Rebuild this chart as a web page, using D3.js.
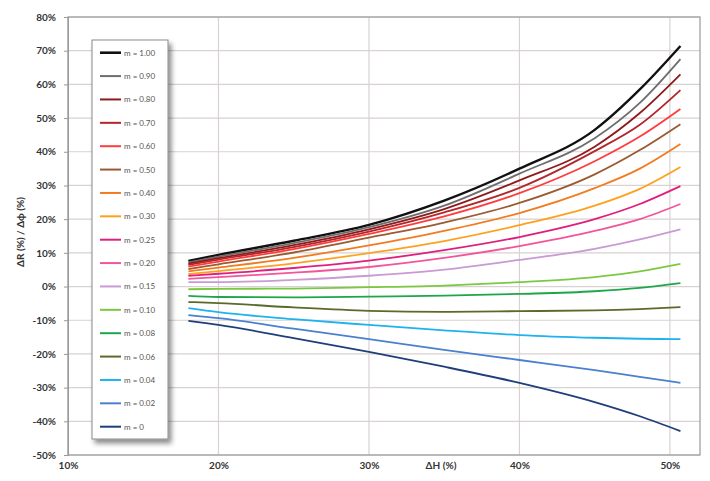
<!DOCTYPE html>
<html>
<head>
<meta charset="utf-8">
<script src="https://cdn.jsdelivr.net/npm/d3@7"></script>
<style>
  body { margin: 0; background: #fff; }
  svg { display: block; }
  .tick text { font-family: Lato, "Liberation Sans", sans-serif; font-weight: bold; font-size: 10px; fill: #333; }
</style>
</head>
<body>
<script>
// ΔH (%) sample positions
var dH = [18, 20, 25, 30, 35, 40, 45, 48, 50.7];

var mLabels = ['m = 1.00', 'm = 0.90', 'm = 0.80', 'm = 0.70', 'm = 0.60', 'm = 0.50', 'm = 0.40', 'm = 0.30',
  'm = 0.25', 'm = 0.20', 'm = 0.15', 'm = 0.10', 'm = 0.08', 'm = 0.06', 'm = 0.04', 'm = 0.02', 'm = 0'];

var colors = ['#111111', '#6e6e6e', '#8e1b1b', '#b3262a', '#ff3c3c', '#9b5a30', '#f27b1f', '#ffa11f',
  '#df1f7f', '#f2559c', '#c99ad4', '#7cc843', '#1ea64a', '#5a6a28', '#1fb2ee', '#4b80cf', '#1f3e7b'];

// ΔR / Δϕ (%) per series at each dH
var m100 = [7.6, 9.4, 13.6, 18.3, 25.5, 35.0, 46.5, 58.5, 71.4];
var m090 = [7.2, 8.9, 12.9, 17.6, 24.0, 33.5, 44.0, 54.5, 67.5];
var m080 = [6.8, 8.4, 12.3, 17.0, 23.0, 31.5, 41.5, 51.5, 63.0];
var m070 = [6.4, 8.0, 11.7, 16.3, 22.0, 29.3, 40.2, 48.0, 58.3];
var m060 = [5.9, 7.4, 11.1, 15.6, 20.8, 27.7, 37.2, 44.5, 52.7];
var m050 = [5.2, 6.6, 10.1, 14.5, 19.0, 24.8, 33.3, 40.5, 48.2];
var m040 = [4.5, 5.6, 8.5, 12.2, 16.5, 21.8, 29.2, 35.0, 42.3];
var m030 = [3.7, 4.6, 6.9, 9.9, 13.5, 18.2, 24.0, 29.0, 35.5];
var m025 = [3.2, 3.8, 5.5, 7.7, 10.8, 14.7, 20.0, 24.5, 29.8];
var m020 = [2.3, 2.8, 4.1, 5.8, 8.5, 12.0, 16.5, 20.0, 24.5];
var m015 = [1.3, 1.3, 2.0, 3.2, 5.0, 7.9, 11.2, 14.0, 17.0];
var m010 = [-0.8, -0.7, -0.6, -0.2, 0.3, 1.3, 2.8, 4.5, 6.7];
var m008 = [-2.8, -3.1, -3.2, -3.0, -2.7, -2.2, -1.4, -0.4, 1.0];
var m006 = [-4.6, -4.9, -6.2, -7.2, -7.5, -7.3, -7.1, -6.7, -6.1];
var m004 = [-6.4, -7.6, -9.7, -11.4, -13.0, -14.4, -15.2, -15.5, -15.6];
var m002 = [-8.5, -9.4, -12.5, -15.6, -18.8, -21.8, -24.8, -26.8, -28.6];
var m000 = [-10.2, -11.4, -15.3, -19.4, -23.8, -28.6, -34.3, -38.5, -42.9];

var series = [m100, m090, m080, m070, m060, m050, m040, m030, m025, m020, m015, m010, m008, m006, m004, m002, m000];

var xTicks = [10, 20, 30, 40, 50];
var yTicks = [80, 70, 60, 50, 40, 30, 20, 10, 0, -10, -20, -30, -40, -50];

var width = 710, height = 481;
var plotL = 68, plotR = 700, plotT = 17, plotB = 455;

var svg = d3.select('body').append('svg').attr('width', width).attr('height', height);

var x = d3.scaleLinear().domain([10, 52]).range([plotL, plotR]);
var y = d3.scaleLinear().domain([-50, 80]).range([plotB, plotT]);

// grid
svg.append('g').selectAll('line').data(yTicks).enter().append('line')
  .attr('x1', plotL).attr('x2', plotR)
  .attr('y1', function (d) { return y(d); }).attr('y2', function (d) { return y(d); })
  .attr('stroke', '#d9d2d2').attr('stroke-width', 1.2);
svg.append('g').selectAll('line').data(xTicks).enter().append('line')
  .attr('y1', plotT).attr('y2', plotB)
  .attr('x1', function (d) { return x(d); }).attr('x2', function (d) { return x(d); })
  .attr('stroke', '#d9d2d2').attr('stroke-width', 1.2);

svg.append('rect').attr('x', plotL).attr('y', plotT).attr('width', plotR - plotL).attr('height', plotB - plotT)
  .attr('fill', 'none').attr('stroke', '#9a9a9a').attr('stroke-width', 1.2);

// axes
var yAxis = svg.append('g').attr('transform', 'translate(' + plotL + ',0)')
  .call(d3.axisLeft(y).tickValues(yTicks).tickSize(4).tickPadding(8).tickFormat(function (d) { return d + '%'; }));
yAxis.select('.domain').attr('stroke', '#9a9a9a');
yAxis.selectAll('.tick line').attr('stroke', '#9a9a9a');

var xAxis = svg.append('g').attr('transform', 'translate(0,' + plotB + ')')
  .call(d3.axisBottom(x).tickValues(xTicks).tickSize(0).tickPadding(7).tickFormat(function (d) { return d + '%'; }));
xAxis.select('.domain').remove();

svg.append('text').attr('x', 441).attr('y', 469).attr('text-anchor', 'middle')
  .style('font-family', 'Lato, sans-serif').style('font-weight', 'bold').style('font-size', '10px').attr('fill', '#333')
  .text('ΔH (%)');

svg.append('text').attr('transform', 'translate(24,232) rotate(-90)').attr('text-anchor', 'middle')
  .style('font-family', 'Lato, sans-serif').style('font-weight', 'bold').style('font-size', '10px').attr('fill', '#333')
  .text('ΔR (%) / Δϕ (%)');

// lines
var line = d3.line()
  .x(function (d, i) { return x(dH[i]); })
  .y(function (d) { return y(d); })
  .curve(d3.curveMonotoneX);

svg.append('g').selectAll('path').data(series).enter().append('path')
  .attr('d', line)
  .attr('fill', 'none')
  .attr('stroke', function (d, i) { return colors[i]; })
  .attr('stroke-width', function (d, i) { return i === 0 ? 2.4 : 1.8; });

// legend
var defs = svg.append('defs');
var f = defs.append('filter').attr('id', 'shadow').attr('x', '-20%').attr('y', '-10%').attr('width', '150%').attr('height', '130%');
f.append('feDropShadow').attr('dx', 3).attr('dy', 4).attr('stdDeviation', 2.5).attr('flood-color', '#000').attr('flood-opacity', 0.45);

svg.append('rect').attr('x', 92).attr('y', 40).attr('width', 76).attr('height', 399)
  .attr('fill', '#fff').attr('stroke', '#8a8a8a').attr('stroke-width', 1).attr('filter', 'url(#shadow)');

var ly = d3.scalePoint().domain(mLabels).range([52.7, 426.7]);

var items = svg.append('g').selectAll('g').data(mLabels).enter().append('g')
  .attr('transform', function (d) { return 'translate(0,' + ly(d) + ')'; });
items.append('line').attr('x1', 100).attr('x2', 121)
  .attr('stroke', function (d, i) { return colors[i]; })
  .attr('stroke-width', function (d, i) { return i === 0 ? 2.6 : 2; });
items.append('text').attr('x', 124).attr('y', 3)
  .style('font-family', 'Lato, sans-serif').style('font-size', '8px').attr('fill', '#555')
  .text(function (d) { return d; });
</script>
</body>
</html>
